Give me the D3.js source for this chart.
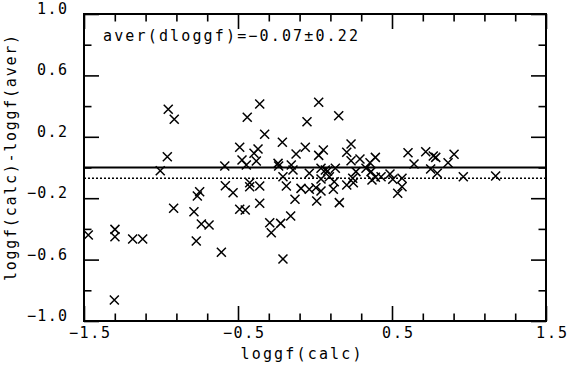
<!DOCTYPE html>
<html>
<head>
<meta charset="utf-8">
<script src="https://cdn.jsdelivr.net/npm/d3@7"></script>
<style>
  html, body { margin: 0; padding: 0; background: #fff; }
  svg { display: block; }
  text { font-family: "DejaVu Sans Mono", monospace; fill: #000; }
</style>
</head>
<body>
<svg id="chart" width="567" height="366"></svg>
<script>
// ---- data ----
const xCalc = [
  -0.953, -0.914, -0.959, -1.005, -0.918, -1.472, -1.299, -1.299, -1.184, -1.119, -1.303,
  -0.359, -0.440, -0.327, -0.489, -0.212, -0.370, -0.396, -0.123, -0.474, -0.381, -0.446,
  -0.586, -0.240, -0.236, -0.154, -0.143, -0.208, -0.424, -0.424, -0.359, -0.582, -0.532,
  -0.186, -0.749, -0.764, -0.130, -0.786, -0.489, -0.453, -0.359, -0.158, -0.294, -0.223,
  -0.284, -0.738, -0.688, -0.771, -0.608, -0.208,
  0.024, -0.052, 0.154, -0.063, 0.054, 0.024, 0.234, 0.206, 0.234, 0.292, 0.392, 0.357,
  0.039, 0.067, 0.082, 0.132, -0.037, 0.331, 0.266, 0.364, 0.039, 0.093, 0.125, 0.245,
  0.392, 0.429, 0.487, 0.370, 0.249, 0.206, 0.505, 0.565, 0.565, 0.537, 0.119, -0.091,
  -0.037, 0.006, 0.039, 0.011, 0.158,
  0.604, 0.643, 0.719, 0.768, 0.784, 0.903, 0.864, 0.751, 0.794, 0.963, 1.173
];
const dLoggf = [
  0.379, 0.314, 0.070, -0.021, -0.266, -0.440, -0.403, -0.451, -0.466, -0.466, -0.863,
  0.414, 0.327, 0.216, 0.132, 0.164, 0.121, 0.093, 0.088, 0.049, 0.042, 0.016,
  0.010, 0.027, 0.010, 0.016, -0.016, -0.060, -0.099, -0.125, -0.121, -0.119, -0.164,
  -0.121, -0.158, -0.186, -0.207, -0.288, -0.272, -0.277, -0.233, -0.316, -0.360, -0.364,
  -0.425, -0.368, -0.375, -0.479, -0.552, -0.596,
  0.425, 0.298, 0.337, 0.132, 0.114, 0.079, 0.153, 0.099, 0.044, 0.055, 0.066, 0.031,
  -0.005, -0.016, -0.023, -0.005, -0.038, -0.005, -0.027, -0.027, -0.075, -0.060, -0.093, -0.070,
  -0.064, -0.060, -0.042, -0.081, -0.099, -0.114, -0.077, -0.070, -0.125, -0.168, -0.142, -0.136,
  -0.142, -0.132, -0.153, -0.218, -0.229,
  0.096, 0.023, 0.103, 0.075, 0.066, 0.086, 0.031, -0.010, -0.038, -0.060, -0.055
];
const xMajorTicks = [-1.5, -0.5, 0.5, 1.5];
const xMinorTicks = [-1.3, -1.1, -0.9, -0.7, -0.3, -0.1, 0.1, 0.3, 0.7, 0.9, 1.1, 1.3];
const yMajorTicks = [1.0, 0.6, 0.2, -0.2, -0.6, -1.0];
const yMinorTicks = [0.8, 0.4, 0.0, -0.4, -0.8];
const xTickLabels = ["\u22121.5", "\u22120.5", "0.5", "1.5"];
const yTickLabels = ["1.0", "0.6", "0.2", "\u22120.2", "\u22120.6", "\u22121.0"];
const meanDiff = -0.07;
const sigmaDiff = 0.22;
const titleText = "aver(dloggf)=\u22120.07\u00b10.22";
const xTitle = "loggf(calc)";
const yTitle = "loggf(calc)-loggf(aver)";

// ---- layout ----
const L = 84, R = 546, T = 14, B = 321;
const svg = d3.select("#chart");
const x = d3.scaleLinear().domain([-1.5, 1.5]).range([L, R]);
const y = d3.scaleLinear().domain([-1, 1]).range([B, T]);
const ink = "#000";
const MAJ = 15, MIN = 7.5;

function styleAxis(g) {
  g.select(".domain").remove();
  g.selectAll(".tick line").attr("stroke", ink).attr("stroke-width", 1.6);
  g.selectAll(".tick text").remove();
}
// inward ticks on all four sides
svg.append("g").attr("transform", `translate(0,${B})`)
  .call(d3.axisBottom(x).tickValues(xMajorTicks).tickSize(-MAJ)).call(styleAxis);
svg.append("g").attr("transform", `translate(0,${B})`)
  .call(d3.axisBottom(x).tickValues(xMinorTicks).tickSize(-MIN)).call(styleAxis);
svg.append("g").attr("transform", `translate(0,${T})`)
  .call(d3.axisTop(x).tickValues(xMajorTicks).tickSize(-MAJ)).call(styleAxis);
svg.append("g").attr("transform", `translate(0,${T})`)
  .call(d3.axisTop(x).tickValues(xMinorTicks).tickSize(-MIN)).call(styleAxis);
svg.append("g").attr("transform", `translate(${L},0)`)
  .call(d3.axisLeft(y).tickValues(yMajorTicks).tickSize(-MAJ)).call(styleAxis);
svg.append("g").attr("transform", `translate(${L},0)`)
  .call(d3.axisLeft(y).tickValues(yMinorTicks).tickSize(-MIN)).call(styleAxis);
svg.append("g").attr("transform", `translate(${R},0)`)
  .call(d3.axisRight(y).tickValues(yMajorTicks).tickSize(-MAJ)).call(styleAxis);
svg.append("g").attr("transform", `translate(${R},0)`)
  .call(d3.axisRight(y).tickValues(yMinorTicks).tickSize(-MIN)).call(styleAxis);

// frame
svg.append("rect").attr("x", L).attr("y", T).attr("width", R - L).attr("height", B - T)
  .attr("fill", "none").attr("stroke", ink).attr("stroke-width", 2);

// zero line and mean line
svg.append("line").attr("x1", L).attr("x2", R).attr("y1", y(0)).attr("y2", y(0))
  .attr("stroke", ink).attr("stroke-width", 2);
svg.append("line").attr("x1", L).attr("x2", R).attr("y1", y(meanDiff)).attr("y2", y(meanDiff))
  .attr("stroke", ink).attr("stroke-width", 1.6).attr("stroke-dasharray", "2,2");

// tick labels
svg.selectAll(".xl").data(xMajorTicks).enter().append("text")
  .attr("x", d => x(d) + 5.5).attr("y", 338).attr("text-anchor", "middle")
  .attr("font-size", 15)
  .attr("textLength", (d, i) => xTickLabels[i].length * 10.3).attr("lengthAdjust", "spacing")
  .text((d, i) => xTickLabels[i]);
svg.selectAll(".yl").data(yMajorTicks).enter().append("text")
  .attr("x", 67).attr("y", d => y(d)).attr("text-anchor", "end")
  .attr("font-size", 15)
  .attr("textLength", (d, i) => yTickLabels[i].length * 10).attr("lengthAdjust", "spacing")
  .text((d, i) => yTickLabels[i]);

// titles
svg.append("text").attr("x", 103).attr("y", 41).attr("font-size", 15)
  .attr("textLength", 255).attr("lengthAdjust", "spacing").text(titleText);
svg.append("text").attr("x", 301).attr("y", 359).attr("text-anchor", "middle")
  .attr("font-size", 15).attr("textLength", 121).attr("lengthAdjust", "spacing").text(xTitle);
svg.append("text").attr("transform", "translate(16,158) rotate(-90)").attr("text-anchor", "middle")
  .attr("font-size", 15).attr("textLength", 246).attr("lengthAdjust", "spacing").text(yTitle);

// points as crosses
const s = 4.5;
const pts = svg.append("g").attr("stroke", ink).attr("stroke-width", 1.5).attr("fill", "none");
pts.selectAll("path").data(xCalc.map((v, i) => [v, dLoggf[i]])).enter().append("path")
  .attr("d", d => {
    const px = x(d[0]), py = y(d[1]);
    return `M${px - s},${py - s}L${px + s},${py + s}M${px - s},${py + s}L${px + s},${py - s}`;
  });
</script>
</body>
</html>
